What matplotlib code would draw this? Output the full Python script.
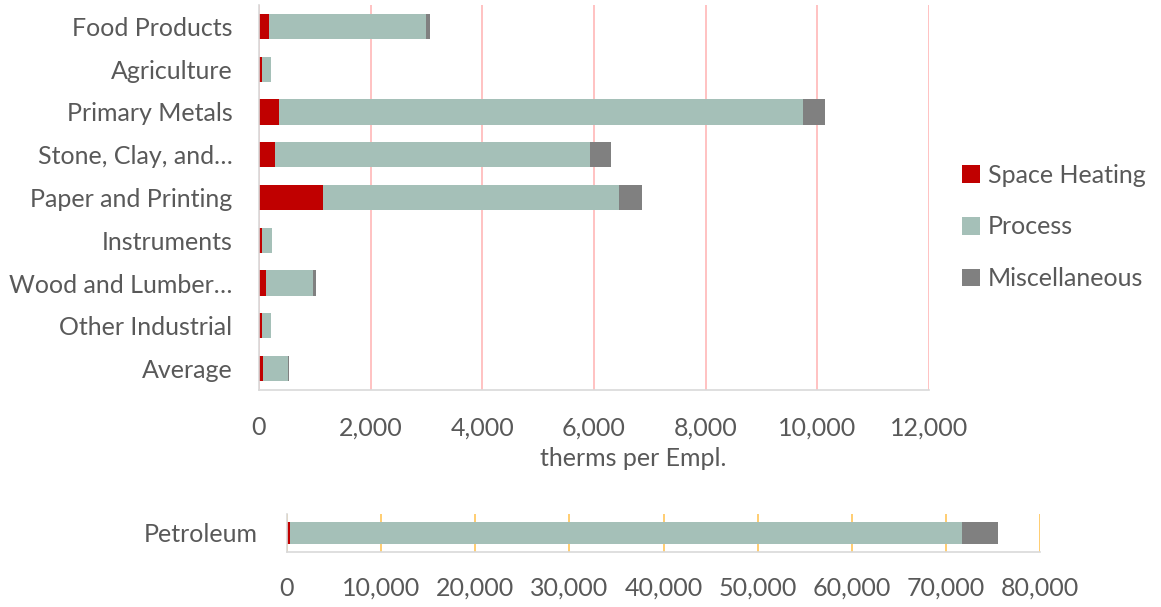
import matplotlib.pyplot as plt
from matplotlib.ticker import FuncFormatter, MultipleLocator
from matplotlib.patches import Patch

plt.rcParams['font.family'] = ['Lato', 'DejaVu Sans']

# industries (top chart), values in therms per employee
industries = ["Food Products", "Agriculture", "Primary Metals", "Stone, Clay, and\u2026",
              "Paper and Printing", "Instruments", "Wood and Lumber\u2026",
              "Other Industrial", "Average"]
space_heating = [175, 60, 350, 290, 1140, 60, 120, 60, 65]
process = [2810, 150, 9390, 5640, 5300, 165, 840, 150, 455]
misc = [70, 5, 395, 375, 413, 15, 65, 5, 25]

# petroleum is on its own scale
petro_label = ["Petroleum"]
petro_space = [300]
petro_process = [71400]
petro_misc = [3800]

series_names = ["Space Heating", "Process", "Miscellaneous"]
colors = ["#C00000", "#A5C0B8", "#808080"]
TXT = "#595959"
FS = 18

fmt = FuncFormatter(lambda v, p: f"{v:,.0f}")


def stack(ax, labels, s, p, m, h):
    left2 = [a + b for a, b in zip(s, p)]
    ax.barh(labels, s, height=h, color=colors[0], linewidth=0)
    ax.barh(labels, p, left=s, height=h, color=colors[1], linewidth=0)
    ax.barh(labels, m, left=left2, height=h, color=colors[2], linewidth=0)


def style(ax, gridcol):
    for side in ["top", "right"]:
        ax.spines[side].set_visible(False)
    for side in ["left", "bottom"]:
        ax.spines[side].set_color("#D9D9D9")
        ax.spines[side].set_linewidth(1.2)
    ax.xaxis.set_major_formatter(fmt)
    ax.grid(axis="x", color=gridcol, linewidth=1.3)
    ax.set_axisbelow(True)
    ax.tick_params(axis="both", length=0, labelsize=FS, labelcolor=TXT)


fig = plt.figure(figsize=(11.61, 6.07), dpi=100)

ax1 = fig.add_axes([259 / 1161, 1 - 390 / 607, 670 / 1161, 385 / 607])
stack(ax1, industries, space_heating, process, misc, 0.59)
ax1.set_xlim(0, 12000)
ax1.set_ylim(8.5, -0.5)
ax1.xaxis.set_major_locator(MultipleLocator(2000))
style(ax1, "#FFBDBD")
ax1.tick_params(axis="x", pad=19)
ax1.tick_params(axis="y", pad=19)
fig.text(633 / 1161, 1 - 458 / 607, "therms per Empl.", ha="center", va="center",
         fontsize=FS, color=TXT)

ax2 = fig.add_axes([287 / 1161, 1 - 552 / 607, 753 / 1161, 38 / 607])
stack(ax2, petro_label, petro_space, petro_process, petro_misc, 0.6)
ax2.set_xlim(0, 80000)
ax2.set_ylim(-0.5, 0.5)
ax2.xaxis.set_major_locator(MultipleLocator(10000))
style(ax2, "#FFC966")
ax2.tick_params(axis="x", pad=18)
ax2.tick_params(axis="y", pad=21)

handles = [Patch(facecolor=c, edgecolor="none") for c in colors]
fig.legend(handles, series_names, loc="center left",
           bbox_to_anchor=(962 / 1161, 1 - 227 / 607), frameon=False,
           fontsize=FS, labelcolor=TXT, handlelength=0.7, handleheight=0.7,
           handletextpad=0.35, labelspacing=1.15, borderpad=0, borderaxespad=0)

fig.savefig("out.png", dpi=100)
